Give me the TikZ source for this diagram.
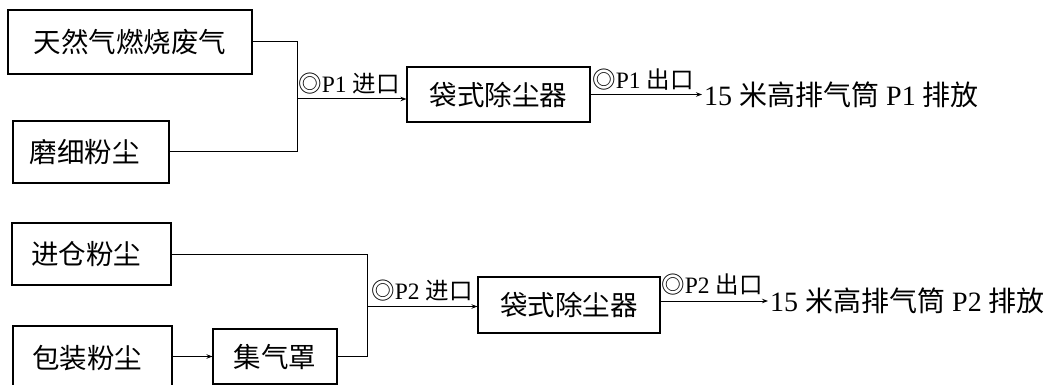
\documentclass[tikz,border=0pt]{standalone}
\usepackage{fontspec}
\setmainfont{Liberation Serif}
\newfontfamily\cjk{Noto Sans CJK SC}
\usetikzlibrary{arrows.meta}
\begin{document}
\begin{tikzpicture}[x=1pt,y=-1pt,
  box/.style={draw,line width=1.1pt,inner sep=0pt,font=\cjk\fontsize{27.5}{30}\selectfont},
  lbl/.style={inner sep=0pt,font=\fontsize{23.5}{26}\selectfont},
  outl/.style={inner xsep=2pt,inner ysep=0pt,anchor=west,font=\fontsize{28}{30}\selectfont},
  wire/.style={line width=1pt},
  arr/.style={line width=1pt,-{Stealth[length=6pt,width=4.5pt]}}]
\useasboundingbox (0,0) rectangle (1053,385);
\clip (0,0) rectangle (1053,385);
% ---- upper line ----
\node[box,minimum width=244pt,minimum height=64pt] (n1) at (130,42) {天然气燃烧废气};
\node[box,minimum height=62pt,text width=122pt,align=left,inner xsep=17pt] (n2) at (91,152) {磨细粉尘};
\node[box,minimum width=183pt,minimum height=55pt] (b1) at (498.5,94.5) {袋式除尘器};
\coordinate (j1) at (297,99);
\draw[wire] (n1.east) -| (j1);
\draw[wire] (n2.east) -| (j1);
\draw[arr] (j1) -- (j1 -| b1.west);
\node[lbl] (l1) at (349,84) {{\cjk ◎}P1 {\cjk 进口}};
\node[outl] (o1) at (702,94.5) {15 {\cjk 米高排气筒} P1 {\cjk 排放}};
\draw[arr] (b1.east) -- (o1.west);
\node[lbl] (l2) at (643,80) {{\cjk ◎}P1 {\cjk 出口}};
% ---- lower line ----
\node[box,minimum height=62pt,text width=121pt,align=left,inner xsep=19pt] (n3) at (91.5,254) {进仓粉尘};
\node[box,minimum height=64pt,text width=121pt,align=left,inner xsep=19pt] (n4) at (92.5,358) {包装粉尘};
\node[box,minimum width=124pt,minimum height=55pt] (n5) at (275,356.5) {集气罩};
\draw[arr] (n4.east |- n5.west) -- (n5.west);
\node[box,minimum width=182pt,minimum height=56pt] (b2) at (569,305) {袋式除尘器};
\coordinate (j2) at (367,306.5);
\draw[wire] (n3.east) -| (j2);
\draw[wire] (n5.east) -| (j2);
\draw[arr] (j2) -- (j2 -| b2.west);
\node[lbl] (l3) at (422,291) {{\cjk ◎}P2 {\cjk 进口}};
\node[outl] (o2) at (768,301) {15 {\cjk 米高排气筒} P2 {\cjk 排放}};
\draw[arr] (b2.east |- o2.west) -- (o2.west);
\node[lbl] (l4) at (712,285) {{\cjk ◎}P2 {\cjk 出口}};
\end{tikzpicture}
\end{document}
